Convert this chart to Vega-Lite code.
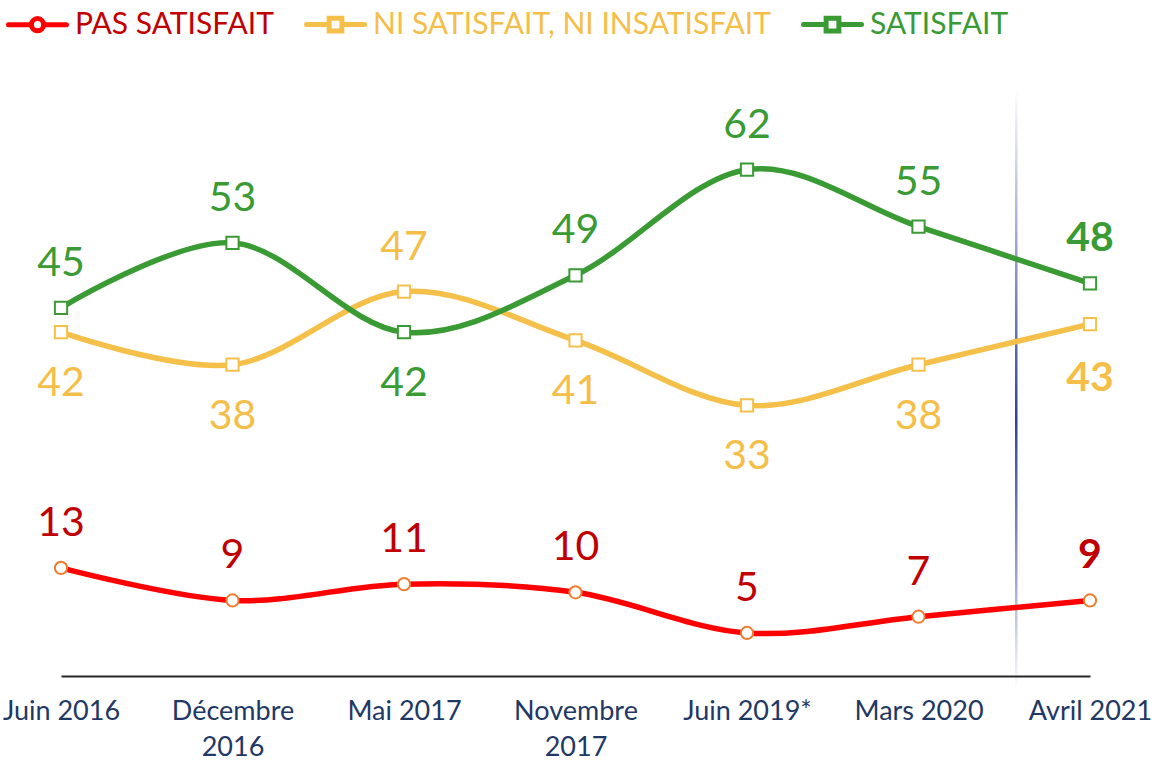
{
  "$schema": "https://vega.github.io/schema/vega-lite/v6.json",
  "width": 1029,
  "height": 612,
  "autosize": {"type": "none"},
  "padding": {"left": 61, "top": 64, "right": 68, "bottom": 93},
  "background": "white",
  "config": {
    "view": {"stroke": null},
    "font": "Lato"
  },
  "datasets": {
    "main": [
      {"i": 0, "date": "Juin 2016", "series": "Pas Satisfait", "v": 13, "pos": "above", "last": false},
      {"i": 1, "date": "Décembre 2016", "series": "Pas Satisfait", "v": 9, "pos": "above", "last": false},
      {"i": 2, "date": "Mai 2017", "series": "Pas Satisfait", "v": 11, "pos": "above", "last": false},
      {"i": 3, "date": "Novembre 2017", "series": "Pas Satisfait", "v": 10, "pos": "above", "last": false},
      {"i": 4, "date": "Juin 2019*", "series": "Pas Satisfait", "v": 5, "pos": "above", "last": false},
      {"i": 5, "date": "Mars 2020", "series": "Pas Satisfait", "v": 7, "pos": "above", "last": false},
      {"i": 6, "date": "Avril 2021", "series": "Pas Satisfait", "v": 9, "pos": "above", "last": true},
      {"i": 0, "date": "Juin 2016", "series": "Ni satisfait, ni insatisfait", "v": 42, "pos": "below", "last": false},
      {"i": 1, "date": "Décembre 2016", "series": "Ni satisfait, ni insatisfait", "v": 38, "pos": "below", "last": false},
      {"i": 2, "date": "Mai 2017", "series": "Ni satisfait, ni insatisfait", "v": 47, "pos": "above", "last": false},
      {"i": 3, "date": "Novembre 2017", "series": "Ni satisfait, ni insatisfait", "v": 41, "pos": "below", "last": false},
      {"i": 4, "date": "Juin 2019*", "series": "Ni satisfait, ni insatisfait", "v": 33, "pos": "below", "last": false},
      {"i": 5, "date": "Mars 2020", "series": "Ni satisfait, ni insatisfait", "v": 38, "pos": "below", "last": false},
      {"i": 6, "date": "Avril 2021", "series": "Ni satisfait, ni insatisfait", "v": 43, "pos": "below", "last": true},
      {"i": 0, "date": "Juin 2016", "series": "Satisfait", "v": 45, "pos": "above", "last": false},
      {"i": 1, "date": "Décembre 2016", "series": "Satisfait", "v": 53, "pos": "above", "last": false},
      {"i": 2, "date": "Mai 2017", "series": "Satisfait", "v": 42, "pos": "below", "last": false},
      {"i": 3, "date": "Novembre 2017", "series": "Satisfait", "v": 49, "pos": "above", "last": false},
      {"i": 4, "date": "Juin 2019*", "series": "Satisfait", "v": 62, "pos": "above", "last": false},
      {"i": 5, "date": "Mars 2020", "series": "Satisfait", "v": 55, "pos": "above", "last": false},
      {"i": 6, "date": "Avril 2021", "series": "Satisfait", "v": 48, "pos": "above", "last": true}
    ],
    "sep": [{"i": 5.57, "top": 72, "bottom": -2}]
  },
  "data": {"name": "main"},
  "encoding": {
    "x": {
      "field": "i",
      "type": "quantitative",
      "scale": {"domain": [0, 6], "nice": false, "zero": false, "padding": 0},
      "axis": {
        "title": null,
        "values": [0, 1, 2, 3, 4, 5, 6],
        "labelExpr": "[['Juin 2016'],['Décembre','2016'],['Mai 2017'],['Novembre','2017'],['Juin 2019*'],['Mars 2020'],['Avril 2021']][datum.value]",
        "labelFont": "Lato",
        "labelFontSize": 27,
        "labelColor": "#1F3864",
        "labelLineHeight": 36,
        "labelPadding": 22,
        "labelFlush": false,
        "labelOverlap": false,
        "ticks": false,
        "grid": false,
        "domainColor": "#262626",
        "domainWidth": 2
      }
    },
    "y": {
      "field": "v",
      "type": "quantitative",
      "scale": {"domain": [-0.3, 75], "nice": false, "zero": false},
      "axis": null
    }
  },
  "layer": [
    {
      "data": {"name": "sep"},
      "mark": {
        "type": "bar",
        "size": 2.5,
        "color": {
          "gradient": "linear",
          "x1": 0, "y1": 0, "x2": 0, "y2": 1,
          "stops": [
            {"offset": 0, "color": "rgba(47,63,150,0)"},
            {"offset": 0.3, "color": "rgba(47,63,150,0.55)"},
            {"offset": 0.55, "color": "rgba(47,63,150,1)"},
            {"offset": 0.8, "color": "rgba(47,63,150,0.5)"},
            {"offset": 1, "color": "rgba(47,63,150,0)"}
          ]
        }
      },
      "encoding": {
        "x": {"field": "i", "type": "quantitative"},
        "y": {"field": "top", "type": "quantitative"},
        "y2": {"field": "bottom"}
      }
    },
    {
      "mark": {"type": "line", "interpolate": "cardinal", "strokeWidth": 5.5, "strokeCap": "round"},
      "encoding": {
        "stroke": {
          "field": "series",
          "type": "nominal",
          "scale": {
            "domain": ["Pas Satisfait", "Ni satisfait, ni insatisfait", "Satisfait"],
            "range": ["#FF0000", "#F4C04A", "#3A9B35"]
          },
          "legend": {
            "orient": "none",
            "legendX": -55,
            "legendY": -71,
            "direction": "horizontal",
            "title": null,
            "labelFont": "Lato",
            "labelFontSize": 30,
            "labelExpr": "upper(datum.label)",
            "labelLimit": 700,
            "labelOffset": 6,
            "columnPadding": 22,
            "padding": 0,
            "symbolSize": 3364,
            "symbolStrokeWidth": 5,
            "symbolType": "M-1,0H-0.22M0.22,0H1M-0.22,-0.22H0.22V0.22H-0.22Z",
            "symbolFillColor": "white",
            "encode": {
              "symbols": {
                "update": {
                  "shape": {"signal": "datum.value === 'Pas Satisfait' ? 'M-1,0H-0.21M0.21,0H1M0.21,0A0.21,0.21,0,1,1,-0.21,0A0.21,0.21,0,1,1,0.21,0Z' : 'M-1,0H-0.22M0.22,0H1M-0.22,-0.22H0.22V0.22H-0.22Z'"},
                  "fill": {"value": "white"},
                  "strokeCap": {"value": "round"}
                }
              },
              "labels": {
                "update": {
                  "fill": {"signal": "datum.value === 'Pas Satisfait' ? '#C00000' : datum.value === 'Satisfait' ? '#3A9B35' : '#F4BE48'"}
                }
              }
            }
          }
        },
        "detail": {"field": "series"}
      }
    },
    {
      "mark": {"type": "point", "filled": false, "fill": "white", "fillOpacity": 1, "opacity": 1, "strokeWidth": 2, "size": 150},
      "encoding": {
        "shape": {
          "field": "series",
          "type": "nominal",
          "scale": {
            "domain": ["Pas Satisfait", "Ni satisfait, ni insatisfait", "Satisfait"],
            "range": ["circle", "square", "square"]
          },
          "legend": null
        },
        "stroke": {
          "field": "series",
          "type": "nominal",
          "scale": {
            "domain": ["Pas Satisfait", "Ni satisfait, ni insatisfait", "Satisfait"],
            "range": ["#ED7D31", "#F4C04A", "#3A9B35"]
          },
          "legend": null
        }
      }
    },
    {
      "transform": [{"filter": "datum.pos === 'above' && !datum.last"}],
      "mark": {"type": "text", "font": "Lato", "fontSize": 41, "baseline": "middle", "align": "center", "dy": -44},
      "encoding": {
        "text": {"field": "v", "type": "quantitative"},
        "fill": {
          "field": "series",
          "type": "nominal",
          "scale": {
            "domain": ["Pas Satisfait", "Ni satisfait, ni insatisfait", "Satisfait"],
            "range": ["#C00000", "#F4BE48", "#3A9B35"]
          },
          "legend": null
        }
      }
    },
    {
      "transform": [{"filter": "datum.pos === 'below' && !datum.last"}],
      "mark": {"type": "text", "font": "Lato", "fontSize": 41, "baseline": "middle", "align": "center", "dy": 52},
      "encoding": {
        "text": {"field": "v", "type": "quantitative"},
        "fill": {"field": "series", "type": "nominal", "legend": null}
      }
    },
    {
      "transform": [{"filter": "datum.pos === 'above' && datum.last"}],
      "mark": {"type": "text", "font": "Lato", "fontSize": 41, "fontWeight": "bold", "baseline": "middle", "align": "center", "dy": -44},
      "encoding": {
        "text": {"field": "v", "type": "quantitative"},
        "fill": {"field": "series", "type": "nominal", "legend": null}
      }
    },
    {
      "transform": [{"filter": "datum.pos === 'below' && datum.last"}],
      "mark": {"type": "text", "font": "Lato", "fontSize": 41, "fontWeight": "bold", "baseline": "middle", "align": "center", "dy": 55},
      "encoding": {
        "text": {"field": "v", "type": "quantitative"},
        "fill": {"field": "series", "type": "nominal", "legend": null}
      }
    }
  ],
  "resolve": {"scale": {"stroke": "independent"}}
}
